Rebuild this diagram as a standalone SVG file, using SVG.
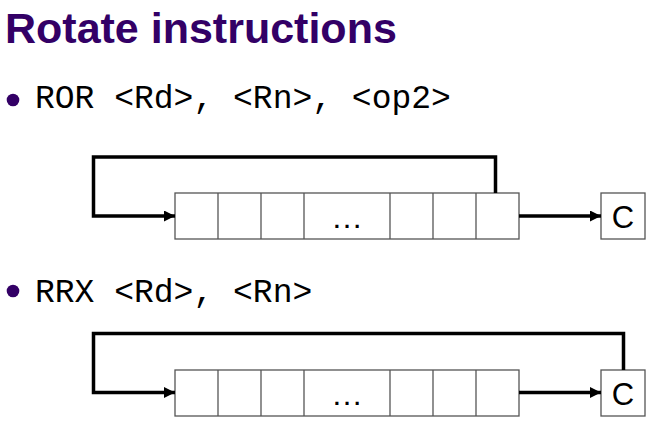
<svg xmlns="http://www.w3.org/2000/svg" width="662" height="433" viewBox="0 0 662 433">
<defs>
<style>
.title{font-family:"Liberation Sans",Arial,sans-serif;font-weight:bold;font-size:43px;fill:#330066}
.code{font-family:"Liberation Mono","Courier New",monospace;font-size:33px;fill:#000}
.cell{fill:#fff;stroke:#555;stroke-width:1.3}
.wire{fill:none;stroke:#000;stroke-width:3.5;stroke-linejoin:miter}
.lbl{font-family:"Liberation Sans",Arial,sans-serif;font-size:31px;fill:#000;text-anchor:middle}
.dots{font-family:"Liberation Sans",Arial,sans-serif;font-size:32px;fill:#000;text-anchor:middle}
</style>
<marker id="ah" markerWidth="11" markerHeight="11" refX="11" refY="5.5" orient="auto" markerUnits="userSpaceOnUse">
<path d="M0,0 L11,5.5 L0,11 Z" fill="#000"/>
</marker>
</defs>
<rect width="662" height="433" fill="#fff"/>
<text class="title" x="5" y="43">Rotate instructions</text>
<g id="bullet1">
<circle cx="13" cy="100" r="6.3" fill="#330066"/>
<text class="code" x="35" y="108">ROR &lt;Rd&gt;, &lt;Rn&gt;, &lt;op2&gt;</text>
</g>
<g id="bullet2">
<circle cx="13" cy="291" r="6.3" fill="#330066"/>
<text class="code" x="35" y="302">RRX &lt;Rd&gt;, &lt;Rn&gt;</text>
</g>
<g id="reg1">
<rect class="cell" x="175" y="193" width="344" height="46"/>
<line class="cell" x1="218" y1="193" x2="218" y2="239"/>
<line class="cell" x1="261" y1="193" x2="261" y2="239"/>
<line class="cell" x1="304" y1="193" x2="304" y2="239"/>
<line class="cell" x1="390" y1="193" x2="390" y2="239"/>
<line class="cell" x1="433" y1="193" x2="433" y2="239"/>
<line class="cell" x1="476" y1="193" x2="476" y2="239"/>
<text class="dots" x="347" y="228">…</text>
</g>
<g id="c1">
<rect class="cell" x="601" y="193" width="44" height="46"/>
<text class="lbl" x="623" y="228">C</text>
</g>
<g id="reg2">
<rect class="cell" x="175" y="370" width="344" height="46"/>
<line class="cell" x1="218" y1="370" x2="218" y2="416"/>
<line class="cell" x1="261" y1="370" x2="261" y2="416"/>
<line class="cell" x1="304" y1="370" x2="304" y2="416"/>
<line class="cell" x1="390" y1="370" x2="390" y2="416"/>
<line class="cell" x1="433" y1="370" x2="433" y2="416"/>
<line class="cell" x1="476" y1="370" x2="476" y2="416"/>
<text class="dots" x="347" y="405">…</text>
</g>
<g id="c2">
<rect class="cell" x="601" y="370" width="44" height="46"/>
<text class="lbl" x="623" y="405">C</text>
</g>
<g id="connectors">
<path class="wire" d="M495.5,193 V157 H93.5 V216 H175" marker-end="url(#ah)"/>
<path class="wire" d="M519,216 H601" marker-end="url(#ah)"/>
<path class="wire" d="M623.5,370 V333.5 H93.5 V392.5 H175" marker-end="url(#ah)"/>
<path class="wire" d="M519,392.5 H601" marker-end="url(#ah)"/>
</g>
</svg>
